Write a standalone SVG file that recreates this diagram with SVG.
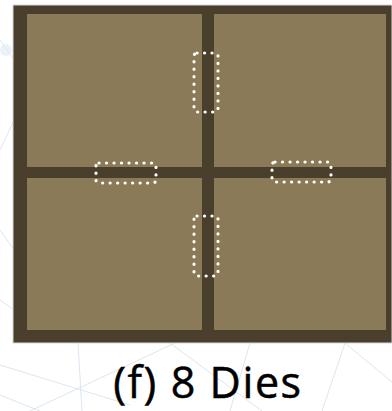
<svg xmlns="http://www.w3.org/2000/svg" width="392" height="411" viewBox="0 0 392 411">
<style>
.bg{stroke:#d3dfec;stroke-width:1;fill:none;opacity:0.8}
.cell{fill:#8a7a57}
.tsv{fill:none;stroke:#ffffff;stroke-width:3.2;stroke-dasharray:0.1 7.4;stroke-linecap:round}
.lbl{font-family:"Open Sans","Noto Sans",sans-serif;font-size:43px;letter-spacing:1.6px;fill:#000;stroke:#000;stroke-width:0.5}
</style>
<rect width="392" height="411" fill="#ffffff"/>
<g id="background">
<path class="bg" d="M0,40 L14,60 M0,150 L14,120 M0,230 L14,250 M0,300 L14,310 M0,365 L130,405 M30,411 L175,343 M78,343 L82,411 M170,343 L262,411 M345,343 L322,411 M345,343 L392,382 M250,343 L230,411 M0,395 L40,411"/>
<circle cx="6" cy="50" r="6" fill="#e3ecf6" opacity="0.7"/>
</g>
<g id="package">
<rect x="13" y="5" width="379" height="338" fill="#4a3f2c" stroke="#d8d8d8" stroke-width="1"/>
</g>
<g id="die-top-left"><rect class="cell" x="27" y="14" width="175" height="153"/></g>
<g id="die-top-right"><rect class="cell" x="214" y="14" width="172" height="153"/></g>
<g id="die-bottom-left"><rect class="cell" x="27" y="178" width="175" height="152"/></g>
<g id="die-bottom-right"><rect class="cell" x="214" y="178" width="172" height="152"/></g>
<g id="connectors">
<rect class="tsv" x="194" y="53" width="24" height="59" rx="3"/>
<rect class="tsv" x="96" y="163" width="60" height="20" rx="3"/>
<rect class="tsv" x="272" y="162" width="59" height="20" rx="3"/>
<rect class="tsv" x="194" y="216" width="24" height="60" rx="3"/>
</g>
<g id="caption">
<text class="lbl" x="208" y="398" text-anchor="middle">(f) 8 Dies</text>
</g>
</svg>
